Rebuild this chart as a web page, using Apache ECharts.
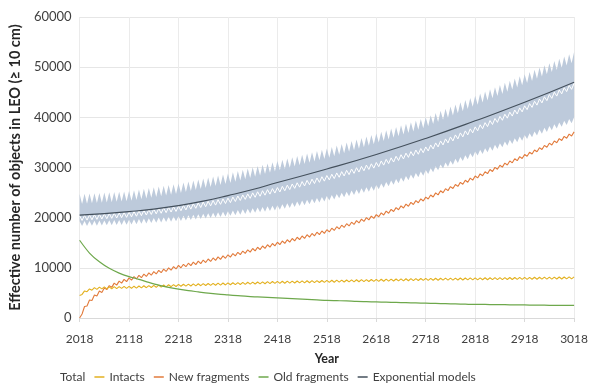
<!DOCTYPE html>
<html>
<head>
<meta charset="utf-8">
<script src="https://cdn.jsdelivr.net/npm/echarts@6/dist/echarts.min.js"></script>
<style>
  html, body { margin: 0; padding: 0; background: #ffffff; }
  #chart { width: 591px; height: 385px; }
</style>
</head>
<body>
<div id="chart"></div>
<script>
// Simulation output sampled every 5 years from 2018 to 3018 (201 steps).
const years = Array.from({ length: 201 }, (_, i) => String(2018 + 5 * i));

// Total effective number of objects (mean of runs)
const total = [
  20400,19440,20470,19510,20540,19580,20610,19650,20680,19720,20750,19790,20820,19860,20890,19930,20960,20000,21030,20070,
  21100,20160,21220,20280,21340,20400,21460,20520,21580,20640,21700,20760,21820,20880,21940,21000,22060,21120,22180,21240,
  22300,21380,22460,21540,22620,21700,22780,21860,22940,22020,23100,22180,23260,22340,23420,22500,23580,22660,23740,22820,
  23900,23000,24110,23220,24320,23430,24530,23640,24740,23850,24950,24060,25160,24270,25370,24480,25580,24690,25790,24900,
  26000,25120,26240,25360,26480,25600,26720,25840,26960,26080,27200,26320,27440,26560,27680,26800,27920,27040,28160,27280,
  28400,27530,28660,27790,28920,28050,29180,28310,29440,28570,29700,28830,29960,29090,30220,29350,30480,29610,30740,29870,
  31000,30160,31310,30470,31620,30780,31930,31090,32240,31400,32550,31710,32860,32020,33170,32330,33480,32640,33790,32950,
  34100,33300,34500,33700,34900,34100,35300,34500,35700,34900,36100,35300,36500,35700,36900,36100,37300,36500,37700,36900,
  38100,37310,38520,37730,38940,38150,39360,38570,39780,38990,40200,39410,40620,39830,41040,40250,41460,40670,41880,41090,
  42300,41530,42750,41980,43200,42430,43650,42880,44100,43330,44550,43780,45000,44230,45450,44680,45900,45130,46350,45580,
  46800
];

// Spread of the total across runs: upper and lower edge
const bandUpper = [
  24700,22730,24760,22790,24820,22850,24880,22910,24940,22970,25000,23030,25060,23090,25120,23150,25180,23210,25240,23270,
  25300,23380,25450,23530,25600,23680,25750,23830,25900,23980,26050,24130,26200,24280,26350,24430,26500,24580,26650,24730,
  26800,24900,27000,25100,27200,25300,27400,25500,27600,25700,27800,25900,28000,26100,28200,26300,28400,26500,28600,26700,
  28800,26930,29050,27180,29300,27430,29550,27680,29800,27930,30050,28180,30300,28430,30550,28680,30800,28930,31050,29180,
  31300,29430,31550,29680,31800,29930,32050,30180,32300,30430,32550,30680,32800,30930,33050,31180,33300,31430,33550,31680,
  33800,31950,34100,32250,34400,32550,34700,32850,35000,33150,35300,33450,35600,33750,35900,34050,36200,34350,36500,34650,
  36800,34960,37120,35280,37440,35600,37760,35920,38080,36240,38400,36560,38720,36880,39040,37200,39360,37520,39680,37840,
  40000,38220,40430,38650,40860,39080,41290,39510,41720,39940,42150,40370,42580,40800,43010,41230,43440,41660,43870,42090,
  44300,42520,44730,42950,45160,43380,45590,43810,46020,44240,46450,44670,46880,45100,47310,45530,47740,45960,48170,46390,
  48600,46820,49040,47260,49480,47700,49920,48140,50360,48580,50800,49020,51240,49460,51680,49900,52120,50340,52560,50780,
  53000
];
const bandLower = [
  19300,18320,19330,18350,19360,18380,19390,18410,19420,18440,19450,18470,19480,18500,19510,18530,19540,18560,19570,18590,
  19600,18640,19670,18710,19740,18780,19810,18850,19880,18920,19950,18990,20020,19060,20090,19130,20160,19200,20230,19270,
  20300,19350,20400,19450,20500,19550,20600,19650,20700,19750,20800,19850,20900,19950,21000,20050,21100,20150,21200,20250,
  21300,20360,21420,20480,21540,20600,21660,20720,21780,20840,21900,20960,22020,21080,22140,21200,22260,21320,22380,21440,
  22500,21590,22680,21770,22860,21950,23040,22130,23220,22310,23400,22490,23580,22670,23760,22850,23940,23030,24120,23210,
  24300,23410,24520,23630,24740,23850,24960,24070,25180,24290,25400,24510,25620,24730,25840,24950,26060,25170,26280,25390,
  26500,25650,26800,25950,27100,26250,27400,26550,27700,26850,28000,27150,28300,27450,28600,27750,28900,28050,29200,28350,
  29500,28690,29870,29060,30240,29430,30610,29800,30980,30170,31350,30540,31720,30910,32090,31280,32460,31650,32830,32020,
  33200,32370,33530,32700,33860,33030,34190,33360,34520,33690,34850,34020,35180,34350,35510,34680,35840,35010,36170,35340,
  36500,35680,36850,36030,37200,36380,37550,36730,37900,37080,38250,37430,38600,37780,38950,38130,39300,38480,39650,38830,
  40000
];

// Intact objects
const intacts = [
  4500,4700,5400,5250,5800,5550,6050,5700,6150,5800,6200,5800,6200,5800,6250,5850,6250,5900,6300,5900,
  6300,5920,6340,5960,6380,6000,6420,6040,6460,6080,6500,6120,6540,6160,6580,6200,6620,6240,6660,6280,
  6700,6320,6730,6350,6760,6380,6790,6410,6820,6440,6850,6470,6880,6500,6910,6530,6940,6560,6970,6590,
  7000,6620,7030,6650,7060,6680,7090,6710,7120,6740,7150,6770,7180,6800,7210,6830,7240,6860,7270,6890,
  7300,6910,7320,6930,7340,6950,7360,6970,7380,6990,7400,7010,7420,7030,7440,7050,7460,7070,7480,7090,
  7500,7110,7520,7130,7540,7150,7560,7170,7580,7190,7600,7210,7620,7230,7640,7250,7660,7270,7680,7290,
  7700,7310,7720,7330,7740,7350,7760,7370,7780,7390,7800,7410,7820,7430,7840,7450,7860,7470,7880,7490,
  7900,7510,7910,7520,7920,7530,7930,7540,7940,7550,7950,7560,7960,7570,7970,7580,7980,7590,7990,7600,
  8000,7610,8010,7620,8020,7630,8030,7640,8040,7650,8050,7660,8060,7670,8070,7680,8080,7690,8090,7700,
  8100,7710,8110,7720,8120,7730,8130,7740,8140,7750,8150,7760,8160,7770,8170,7780,8180,7790,8190,7800,
  8200
];

// Fragments from new collisions
const newFragments = [
  0,800,2300,2400,3600,3500,4600,4400,5400,5100,6000,5650,6450,6100,6950,6550,7350,6950,7700,7250,
  8000,7530,8250,7780,8500,8030,8750,8280,9000,8530,9250,8780,9500,9030,9750,9280,10000,9530,10250,9780,
  10500,10010,10710,10220,10920,10430,11130,10640,11340,10850,11550,11060,11760,11270,11970,11480,12180,11690,12390,11900,
  12600,12130,12850,12380,13100,12630,13350,12880,13600,13130,13850,13380,14100,13630,14350,13880,14600,14130,14850,14380,
  15100,14630,15350,14880,15600,15130,15850,15380,16100,15630,16350,15880,16600,16130,16850,16380,17100,16630,17350,16880,
  17600,17150,17900,17450,18200,17750,18500,18050,18800,18350,19100,18650,19400,18950,19700,19250,20000,19550,20300,19850,
  20600,20180,20950,20530,21300,20880,21650,21230,22000,21580,22350,21930,22700,22280,23050,22630,23400,22980,23750,23330,
  24100,23710,24520,24130,24940,24550,25360,24970,25780,25390,26200,25810,26620,26230,27040,26650,27460,27070,27880,27490,
  28300,27920,28730,28350,29160,28780,29590,29210,30020,29640,30450,30070,30880,30500,31310,30930,31740,31360,32170,31790,
  32600,32230,33050,32680,33500,33130,33950,33580,34400,34030,34850,34480,35300,34930,35750,35380,36200,35830,36650,36280,
  37100
];

// Fragments already in orbit at the start (smooth decay), every 20 years
const oldFragYears = [
  '2018','2038','2058','2078','2098','2118','2138','2158','2178','2198',
  '2218','2238','2258','2278','2298','2318','2338','2358','2378','2398',
  '2418','2438','2458','2478','2498','2518','2538','2558','2578','2598',
  '2618','2638','2658','2678','2698','2718','2738','2758','2778','2798',
  '2818','2838','2858','2878','2898','2918','2938','2958','2978','2998','3018'
];
const oldFragments = [
  15500,12950,11200,9900,8950,8250,7700,7100,6550,6100,
  5750,5450,5200,4950,4750,4600,4450,4300,4200,4100,
  4000,3900,3800,3700,3600,3500,3450,3400,3300,3250,
  3200,3150,3100,3050,3000,2950,2900,2850,2800,2750,
  2700,2700,2650,2650,2600,2600,2550,2550,2500,2500,2500
];

// Fitted exponential models of the total
const expYears = ['2018','2068','2118','2168','2218','2268','2318','2368','2418','2518','2618','2718','2818','2918','3018'];
const expModel = [20500,20800,21200,21700,22400,23300,24400,25600,27000,29700,32600,35800,39300,43000,47000];

const yTicks = { min: 0, max: 60000, step: 10000 };

const legendNames = ['Total', 'Intacts', 'New fragments', 'Old fragments', 'Exponential models'];
const COLORS = {
  band: '#bdcadb',
  total: '#ffffff',
  intacts: '#e3b120',
  newFrag: '#e27b3c',
  oldFrag: '#6ea84c',
  expModel: '#44505c'
};

const FONT = 'Lato, "Open Sans", sans-serif';
const TXT = '#404040';

const chart = echarts.init(document.getElementById('chart'), null, { renderer: 'canvas' });

const bandSpread = bandUpper.map((v, i) => v - bandLower[i]);

chart.setOption({
  animation: false,
  backgroundColor: '#ffffff',
  textStyle: { fontFamily: FONT },
  grid: { left: 78, right: 10, top: 17, bottom: 67, containLabel: false },
  legend: {
    data: legendNames,
    left: 40,
    top: 366,
    icon: 'rect',
    itemWidth: 10,
    itemHeight: 1.5,
    itemGap: 9,
    selectedMode: false,
    textStyle: { fontFamily: FONT, fontSize: 12, color: TXT }
  },
  xAxis: {
    type: 'category',
    data: years,
    boundaryGap: false,
    name: 'Year',
    nameLocation: 'middle',
    nameGap: 34,
    nameTextStyle: { fontFamily: FONT, fontSize: 12.5, fontWeight: 'bold', color: '#262626' },
    axisLine: { show: true, lineStyle: { color: '#d9d9d9', width: 1 } },
    axisTick: { show: true, interval: 19, length: 4, lineStyle: { color: '#d9d9d9' } },
    axisLabel: { interval: 19, fontFamily: FONT, fontSize: 12, color: TXT, margin: 15 },
    splitLine: { show: true, interval: 19, lineStyle: { color: '#ebebeb', width: 1 } }
  },
  yAxis: {
    type: 'value',
    min: yTicks.min,
    max: yTicks.max,
    interval: yTicks.step,
    name: 'Effective number of objects in LEO (≥ 10 cm)',
    nameLocation: 'middle',
    nameGap: 55,
    nameTextStyle: { fontFamily: FONT, fontSize: 14.5, fontWeight: 'bold', color: '#262626' },
    axisLine: { show: false },
    axisTick: { show: false },
    axisLabel: { fontFamily: FONT, fontSize: 13, color: TXT, margin: 8, formatter: v => String(v) },
    splitLine: { show: true, lineStyle: { color: '#e6e6e6', width: 1 } }
  },
  series: [
    {
      name: 'bandBase', type: 'line', data: bandLower, stack: 'band',
      symbol: 'none', silent: true, lineStyle: { width: 0, opacity: 0 }, z: 1
    },
    {
      name: 'bandSpread', type: 'line', data: bandSpread, stack: 'band',
      symbol: 'none', silent: true, lineStyle: { width: 0, opacity: 0 },
      areaStyle: { color: COLORS.band, opacity: 1 }, z: 1
    },
    {
      name: 'Total', type: 'line', data: total, symbol: 'none',
      color: COLORS.total, lineStyle: { color: COLORS.total, width: 1 }, z: 2
    },
    {
      name: 'Exponential models', type: 'line',
      data: expYears.map((y, i) => [y, expModel[i]]),
      symbol: 'none', smooth: true,
      color: COLORS.expModel, lineStyle: { color: COLORS.expModel, width: 1.1 }, z: 3
    },
    {
      name: 'New fragments', type: 'line', data: newFragments, symbol: 'none',
      color: COLORS.newFrag, lineStyle: { color: COLORS.newFrag, width: 1.1 }, z: 4
    },
    {
      name: 'Intacts', type: 'line', data: intacts, symbol: 'none',
      color: COLORS.intacts, lineStyle: { color: COLORS.intacts, width: 1.1 }, z: 4
    },
    {
      name: 'Old fragments', type: 'line',
      data: oldFragYears.map((y, i) => [y, oldFragments[i]]),
      symbol: 'none', smooth: 0.3,
      color: COLORS.oldFrag, lineStyle: { color: COLORS.oldFrag, width: 1.2 }, z: 5
    }
  ]
});
</script>
</body>
</html>
